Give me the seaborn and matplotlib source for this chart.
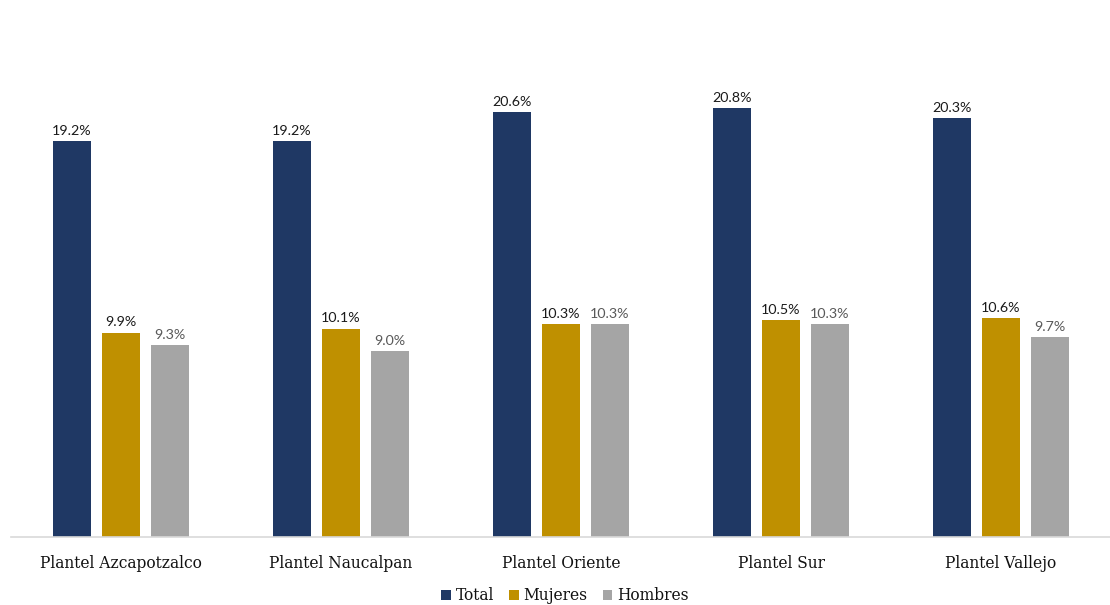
import matplotlib
matplotlib.use("Agg")
import matplotlib.pyplot as plt
import seaborn as sns
import pandas as pd
from matplotlib.patches import Patch

planteles = ["Plantel Azcapotzalco", "Plantel Naucalpan", "Plantel Oriente", "Plantel Sur", "Plantel Vallejo"]
series = ["Total", "Mujeres", "Hombres"]
total = [19.2, 19.2, 20.6, 20.8, 20.3]
mujeres = [9.9, 10.1, 10.3, 10.5, 10.6]
hombres = [9.3, 9.0, 10.3, 10.3, 9.7]
colors = ["#1F3864", "#BF9000", "#A5A5A5"]
label_colors = ["#1a1a1a", "#1a1a1a", "#595959"]

rows = []
for s, vals in zip(series, [total, mujeres, hombres]):
    for p, v in zip(planteles, vals):
        rows.append({"Plantel": p, "Serie": s, "Valor": v})
df = pd.DataFrame(rows)

sns.set_theme(style="white")
fig = plt.figure(figsize=(11.1, 6.05), dpi=100)
ax = fig.add_axes([11/1110, 68/605, 1100/1110, 516/605])

sns.barplot(data=df, x="Plantel", y="Valor", hue="Serie", order=planteles,
            hue_order=series, palette=colors, width=0.668, gap=0.22,
            saturation=1, ax=ax, legend=False, errorbar=None, linewidth=0)

for cont, lc in zip(ax.containers, label_colors):
    ax.bar_label(cont, fmt="%.1f%%", padding=3, fontsize=10.3, color=lc,
                 family=["Lato", "DejaVu Sans"])

ax.set_xlim(-0.5, 4.5)
ax.set_ylim(0, 25)
ax.set_xlabel("")
ax.set_ylabel("")
ax.set_yticks([])
ax.tick_params(axis="x", length=0, pad=13)
for lbl in ax.get_xticklabels():
    lbl.set_family(["DejaVu Serif"])
    lbl.set_fontsize(11.2)
    lbl.set_color("#111111")
for side in ["top", "left", "right"]:
    ax.spines[side].set_visible(False)
ax.spines["bottom"].set_color("#D9D9D9")
ax.spines["bottom"].set_linewidth(1.2)

handles = [Patch(facecolor=c, edgecolor="none") for c in colors]
leg = fig.legend(handles, series, loc="center", bbox_to_anchor=(0.509, 9/605), ncol=3,
                 frameon=False, handlelength=0.6, handleheight=0.6, handletextpad=0.3,
                 columnspacing=1.0, prop={"family": "DejaVu Serif", "size": 11.2})
for t in leg.get_texts():
    t.set_color("#111111")

fig.savefig("out.png", dpi=100)
